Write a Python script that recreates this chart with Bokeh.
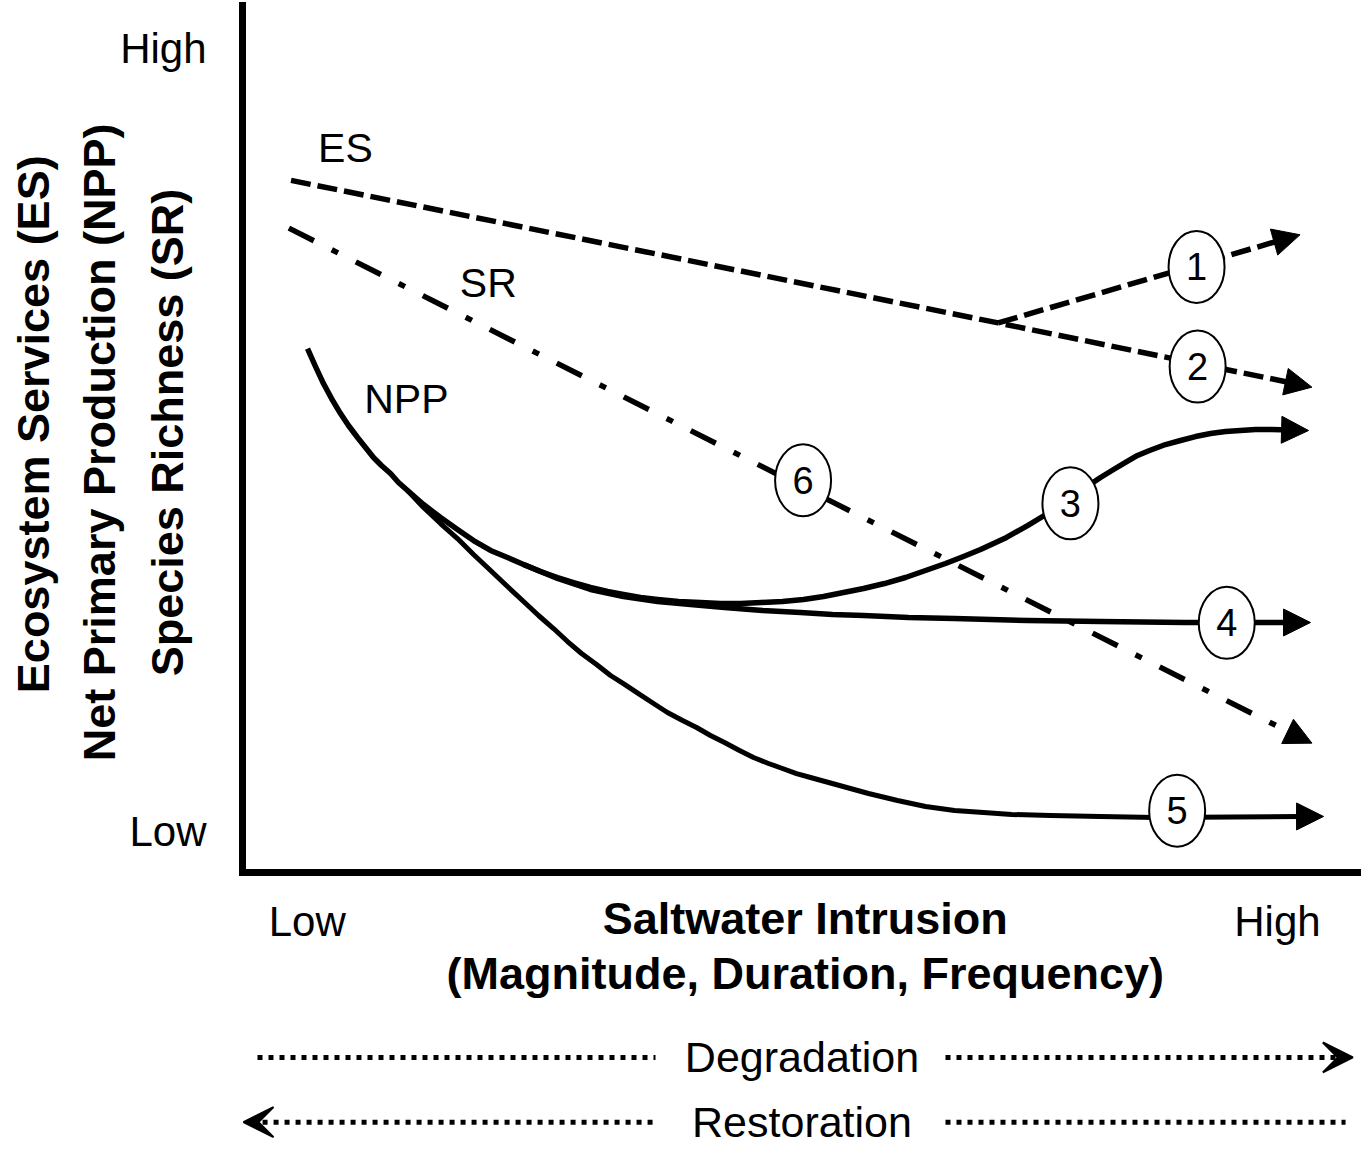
from bokeh.plotting import figure
from bokeh.models import Range1d, FixedTicker, ColumnDataSource, Arrow, NormalHead, VeeHead
from bokeh.core.properties import value
from bokeh.embed import file_html
from bokeh.resources import INLINE
import math

FONT = "Liberation Sans"

# ---- conceptual data: x = saltwater intrusion (0 low .. 100 high), y = level (0 low .. 100 high)
es_x = [4.5, 70.1, 97.0, 99.2]
es_y = [84.0, 66.7, 59.5, 58.9]
es1_x = [70.1, 96.2, 98.1]
es1_y = [66.7, 76.7, 77.4]
sr_x = [4.3, 97.3, 99.2]
sr_y = [78.2, 16.9, 15.7]

npp3_x = [6.03, 6.77, 7.51, 8.26, 9.09, 9.83, 10.67, 11.41, 12.15, 12.89,
          13.73, 14.47, 15.31, 16.79, 18.37, 19.94, 21.43, 23.01, 24.58, 26.07,
          27.64, 29.22, 30.71, 32.28, 33.86, 35.34, 36.92, 38.50, 40.45, 42.49,
          44.34, 46.20, 48.14, 50.09, 52.04, 53.90, 55.75, 57.61, 59.55, 61.50,
          63.36, 65.21, 66.88, 68.46, 69.67, 70.87, 72.82, 74.68, 75.97, 77.27,
          78.48, 79.59, 80.80, 81.91, 83.02, 84.14, 85.62, 87.01, 88.40, 89.80,
          91.19, 92.58, 93.97, 95.45, 97.22, 98.89]
npp3_y = [63.59, 61.41, 59.34, 57.52, 55.70, 54.25, 52.79, 51.58, 50.36, 49.39,
          48.42, 47.33, 46.36, 44.66, 43.08, 41.63, 40.29, 39.08, 38.23, 37.38,
          36.53, 35.80, 35.19, 34.59, 34.10, 33.74, 33.37, 33.13, 32.89, 32.77,
          32.65, 32.65, 32.77, 32.89, 33.13, 33.50, 33.98, 34.47, 35.07, 35.80,
          36.65, 37.50, 38.35, 39.20, 39.93, 40.66, 42.11, 43.57, 44.66, 45.87,
          46.97, 47.94, 48.91, 49.76, 50.61, 51.21, 51.94, 52.43, 52.91, 53.28,
          53.52, 53.64, 53.76, 53.76, 53.70, 53.64]
npp4_x = [26.07, 29.22, 32.28, 35.34, 38.50, 41.56, 44.71, 48.24, 51.76, 54.73, 57.61,
          61.78, 66.05, 69.39, 72.82, 76.25, 79.59, 83.49, 87.38, 92.58, 97.22, 99.07]
npp4_y = [37.38, 35.68, 34.35, 33.50, 32.89, 32.52, 32.16, 31.80, 31.55, 31.31, 31.19,
          30.95, 30.83, 30.70, 30.58, 30.52, 30.46, 30.40, 30.34, 30.34, 30.34, 30.34]
npp5_x = [15.31, 16.79, 18.37, 19.94, 21.43, 23.01, 24.58, 26.07, 27.46, 28.85,
          30.15, 31.45, 32.84, 34.14, 35.44, 36.73, 38.13, 39.42, 40.82, 42.12,
          43.41, 44.71, 46.10, 47.40, 48.79, 50.09, 51.39, 52.69, 55.38, 58.07,
          60.76, 63.36, 66.05, 68.74, 71.34, 74.95, 79.59, 84.69, 98.14, 100.28]
npp5_y = [46.36, 44.30, 42.35, 40.53, 38.59, 36.65, 34.71, 32.89, 31.19, 29.61,
          28.03, 26.58, 25.24, 23.91, 22.82, 21.72, 20.51, 19.42, 18.45, 17.60,
          16.63, 15.78, 14.81, 13.96, 13.23, 12.62, 12.01, 11.53, 10.56, 9.59,
          8.74, 8.01, 7.52, 7.28, 7.04, 6.92, 6.80, 6.67, 6.80, 6.80]

marker_x = [88.5, 88.6, 76.8, 91.3, 86.7, 52.0]
marker_y = [73.5, 61.4, 44.8, 30.3, 7.5, 47.6]
marker_text = ["1", "2", "3", "4", "5", "6"]

curve_label_x = [9.55, 22.8, 15.2]
curve_label_y = [87.9, 71.5, 57.5]
curve_label_text = ["ES", "SR", "NPP"]

x_ticks = [6, 96]
x_tick_labels = ["Low", "High"]
y_ticks = [5, 100]
y_tick_labels = ["Low", "High"]

x_title_lines = ["Saltwater Intrusion", "(Magnitude, Duration, Frequency)"]
x_title_x = [52.2, 52.2]
x_title_y = [-5.6, -12.2]

y_title_lines = ["Ecosystem Services (ES)", "Net Primary Production (NPP)", "Species Richness (SR)"]
y_title_x = [-19.4, -13.3, -7.0]
y_title_y = [54.4, 52.2, 53.4]

process_text = ["Degradation", "Restoration"]
process_x = [51.9, 51.9]
process_y = [-22.45, -30.3]
deg_left_x = [1.39, 38.31]
deg_right_x = [65.21, 101.4]
deg_tip_x = [101.2, 103.0]
res_left_x = [1.86, 38.31]
res_right_x = [65.21, 102.32]
res_tip_x = [1.86, 0.09]

X_RANGE = (-22.45, 103.80)
Y_RANGE = (-33.74, 105.83)

p = figure(width=1361, height=1150, x_range=Range1d(*X_RANGE), y_range=Range1d(*Y_RANGE),
           output_backend="svg", toolbar_location=None,
           min_border=0, min_border_left=0, min_border_right=0, min_border_top=0, min_border_bottom=0)
p.outline_line_color = None
p.grid.visible = False
p.background_fill_color = "white"
p.border_fill_color = "white"

# axes placed at the data origin
p.xaxis.fixed_location = 0
p.yaxis.fixed_location = 0
p.xaxis.bounds = (0, X_RANGE[1])
p.yaxis.bounds = (0, 105.2)
p.xaxis.ticker = FixedTicker(ticks=x_ticks)
p.yaxis.ticker = FixedTicker(ticks=y_ticks)
p.xaxis.major_label_overrides = {t: l for t, l in zip(x_ticks, x_tick_labels)}
p.yaxis.major_label_overrides = {t: l for t, l in zip(y_ticks, y_tick_labels)}
for ax in p.axis:
    ax.axis_line_width = 7
    ax.axis_line_color = "black"
    ax.axis_line_cap = "square"
    ax.major_tick_line_color = None
    ax.minor_tick_line_color = None
    ax.major_tick_out = 0
    ax.major_tick_in = 0
    ax.major_label_text_font = FONT
    ax.major_label_text_font_size = "42px"
    ax.major_label_text_color = "black"
p.xaxis.major_label_standoff = 26
p.yaxis.major_label_standoff = 36

LW = 5.5
# ES dashed
p.line(es_x[:-1], es_y[:-1], line_width=LW, line_color="black", line_dash="20 7")
p.line(es1_x[:-1], es1_y[:-1], line_width=LW, line_color="black", line_dash="20 7")
# SR dash-dot
p.line(sr_x[:-1], sr_y[:-1], line_width=LW, line_color="black", line_dash="28 20 7 20")
# NPP solid
p.line(npp3_x[:-1], npp3_y[:-1], line_width=LW, line_color="black", line_join="round")
p.line(npp4_x[:-1], npp4_y[:-1], line_width=LW, line_color="black", line_join="round")
p.line(npp5_x[:-1], npp5_y[:-1], line_width=5, line_color="black", line_join="round")

series = [(es_x, es_y), (es1_x, es1_y), (sr_x, sr_y), (npp3_x, npp3_y), (npp4_x, npp4_y), (npp5_x, npp5_y)]
arr_src = ColumnDataSource(dict(
    x0=[s[0][-2] for s in series], y0=[s[1][-2] for s in series],
    x1=[s[0][-1] for s in series], y1=[s[1][-1] for s in series]))
p.add_layout(Arrow(end=NormalHead(size=27, fill_color="black", line_color="black", line_width=1),
                   x_start="x0", y_start="y0", x_end="x1", y_end="y1",
                   source=arr_src, line_alpha=0))

# numbered markers
p.ellipse(marker_x, marker_y, width=56, height=72, width_units="screen", height_units="screen",
          fill_color="white", line_color="black", line_width=2)
p.text(marker_x, marker_y, text=marker_text, text_font=value(FONT), text_font_size="38px",
       text_align="center", text_baseline="middle", text_color="black")

# curve labels
p.text(curve_label_x, curve_label_y, text=curve_label_text, text_font=value(FONT),
       text_font_size="41px", text_align="center", text_baseline="middle", text_color="black")

# axis titles
p.text(x_title_x, x_title_y, text=x_title_lines, text_font=value(FONT), text_font_size="45px",
       text_font_style="bold", text_align="center", text_baseline="middle", text_color="black")
p.text(y_title_x, y_title_y, text=y_title_lines, text_font=value(FONT), text_font_size="45px",
       text_font_style="bold", text_align="center", text_baseline="middle", text_color="black",
       angle=math.pi / 2)

# degradation / restoration arrows
p.text(process_x, process_y, text=process_text, text_font=value(FONT), text_font_size="43px",
       text_align="center", text_baseline="middle", text_color="black")
for xs, yv in [(deg_left_x, process_y[0]), (deg_right_x, process_y[0]),
               (res_left_x, process_y[1]), (res_right_x, process_y[1])]:
    p.line(xs, [yv, yv], line_width=5, line_color="black", line_dash="5 6")
proc_src = ColumnDataSource(dict(x0=[deg_tip_x[0], res_tip_x[0]], x1=[deg_tip_x[1], res_tip_x[1]],
                                 y0=process_y, y1=process_y))
p.add_layout(Arrow(end=VeeHead(size=30, fill_color="black", fill_alpha=1.0, line_color="black", line_width=2),
                   x_start="x0", y_start="y0", x_end="x1", y_end="y1",
                   source=proc_src, line_alpha=0))

open("out.html", "w").write(file_html(p, INLINE))
